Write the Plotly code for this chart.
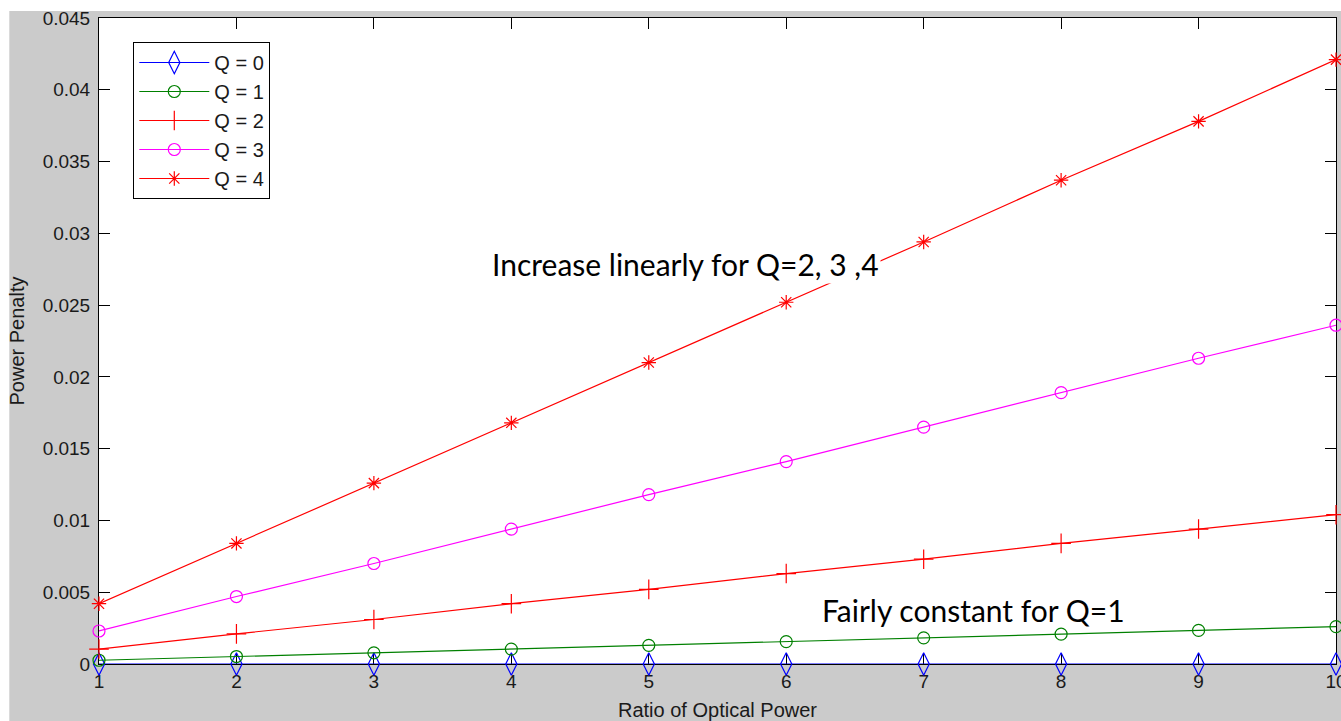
import plotly.graph_objects as go

ratio = [1, 2, 3, 4, 5, 6, 7, 8, 9, 10]
q0 = [0, 0, 0, 0, 0, 0, 0, 0, 0, 0]
q1 = [0.00026, 0.00052, 0.00078, 0.00104, 0.0013, 0.00156, 0.00182, 0.00208, 0.00234, 0.0026]
q2 = [0.00104, 0.0021, 0.0031, 0.0042, 0.0052, 0.0063, 0.0073, 0.0084, 0.0094, 0.0104]
q3 = [0.0023, 0.0047, 0.0070, 0.0094, 0.0118, 0.0141, 0.0165, 0.0189, 0.0213, 0.0236]
q4 = [0.0042, 0.0084, 0.0126, 0.0168, 0.0210, 0.0252, 0.0294, 0.0337, 0.0378, 0.0421]

series_names = ["Q = 0", "Q = 1", "Q = 2", "Q = 3", "Q = 4"]
y_ticks = [0, 0.005, 0.01, 0.015, 0.02, 0.025, 0.03, 0.035, 0.04, 0.045]
y_tick_labels = ["0", "0.005", "0.01", "0.015", "0.02", "0.025", "0.03", "0.035", "0.04", "0.045"]
x_ticks = [1, 2, 3, 4, 5, 6, 7, 8, 9, 10]

styles = [
    ("#0000ff", "diamond-tall-open", 16),
    ("#008000", "circle-open", 12),
    ("#ff0000", "cross-thin-open", 14),
    ("#ff00ff", "circle-open", 12),
    ("#ff0000", "asterisk-open", 12),
]

fig = go.Figure()
for name, ys, (col, sym, sz) in zip(series_names, [q0, q1, q2, q3, q4], styles):
    fig.add_trace(go.Scatter(
        x=ratio, y=ys, name=name, mode="lines+markers",
        line=dict(color=col, width=1.2),
        marker=dict(symbol=sym, size=sz, color=col, line=dict(color=col, width=1.2)),
        cliponaxis=False,
    ))

axis_common = dict(
    showline=True, linecolor="black", linewidth=1, mirror="ticks",
    ticks="inside", ticklen=11, tickcolor="black", tickwidth=1,
    showgrid=False, zeroline=False, layer="below traces",
    ticklabeloverflow="allow", automargin=False,
    tickfont=dict(family="Liberation Sans, Arial", size=19, color="#1a1a1a"),
)

fig.update_xaxes(range=[1, 10], tickvals=x_ticks,
                 title=dict(text="Ratio of Optical Power", standoff=14,
                            font=dict(family="Liberation Sans, Arial", size=20, color="#1a1a1a")),
                 **axis_common)
fig.update_yaxes(range=[0, 0.045], tickvals=y_ticks, ticktext=y_tick_labels,
                 ticklabelstandoff=4,
                 title=dict(text="Power Penalty", standoff=12,
                            font=dict(family="Liberation Sans, Arial", size=20, color="#1a1a1a")),
                 **axis_common)

fig.add_annotation(text="Increase linearly for Q=2, 3 ,4", xref="paper", yref="paper",
                   x=0.3164, y=0.6190, xanchor="left", yanchor="middle", showarrow=False,
                   bgcolor="white", font=dict(family="Lato", size=30, color="black"))
fig.add_annotation(text="Fairly constant for Q=1", xref="paper", yref="paper",
                   x=0.5830, y=0.0830, xanchor="left", yanchor="middle", showarrow=False,
                   font=dict(family="Lato", size=30, color="black"))

# white strips of the screenshot border
fig.add_shape(type="rect", xref="paper", yref="paper", x0=-0.2, x1=1.2,
              y0=(664 - 11) / 646, y1=1.2, fillcolor="white", line=dict(width=0), layer="above")
fig.add_shape(type="rect", xref="paper", yref="paper", x0=-0.2, x1=(9 - 98.7) / 1237,
              y0=-0.2, y1=1.2, fillcolor="white", line=dict(width=0), layer="above")

fig.update_layout(
    width=1341, height=721,
    margin=dict(l=99, r=5, t=18, b=57),
    paper_bgcolor="#cbcbcb", plot_bgcolor="white",
    showlegend=True,
    legend=dict(x=(133 - 98.7) / 1237, y=(664 - 42) / 646, xanchor="left", yanchor="top",
                bgcolor="white", bordercolor="black", borderwidth=1,
                font=dict(family="Liberation Sans, Arial", size=20, color="#1a1a1a"),
                itemwidth=70, tracegroupgap=0),
)

fig.write_html("out.html")
